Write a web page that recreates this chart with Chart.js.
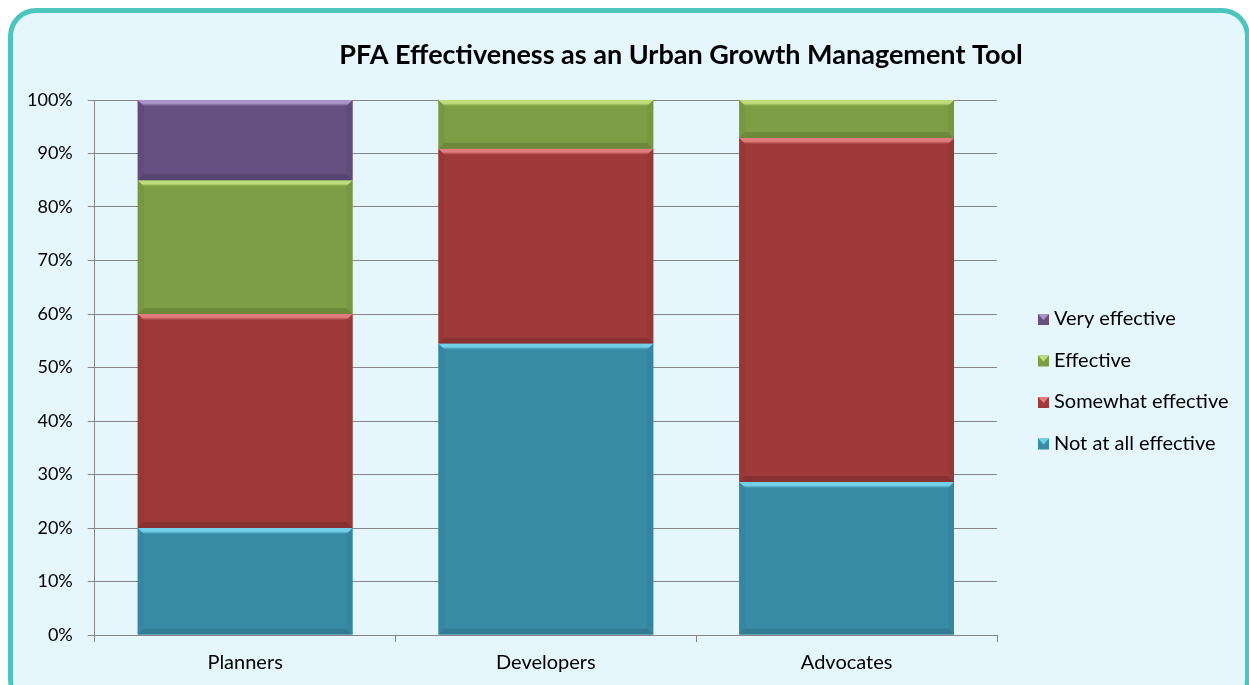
<!DOCTYPE html>
<html>
<head>
<meta charset="utf-8">
<script src="https://cdn.jsdelivr.net/npm/chart.js@4.4.1/dist/chart.umd.min.js"></script>
<style>
  html, body { margin: 0; padding: 0; background: #ffffff; overflow: hidden; }
  #frame {
    position: absolute; left: 8px; top: 8px; width: 1232px; height: 690px;
    border: 5px solid #4cc5bd; border-radius: 28px; background: #e5f6fd;
  }
  #chart { position: absolute; left: 0; top: 0; }
</style>
</head>
<body>
<div id="frame"></div>
<canvas id="chart" width="1249" height="685"></canvas>
<script>
// data (percent of respondents)
var categories = ['Planners', 'Developers', 'Advocates'];
var notAtAll   = [20, 54.5, 28.6];
var somewhat   = [40, 36.4, 64.3];
var effective  = [25, 9.1, 7.1];
var veryEff    = [15, 0, 0];
var yTicks     = [0, 10, 20, 30, 40, 50, 60, 70, 80, 90, 100];

var FONT = 'Lato, "Open Sans", sans-serif';

// bevel look of the excel bars
var bevelPlugin = {
  id: 'bevel',
  afterDatasetsDraw: function(chart){
    var ctx = chart.ctx;
    chart.data.datasets.forEach(function(ds, di){
      var meta = chart.getDatasetMeta(di);
      meta.data.forEach(function(bar){
        var p = bar.getProps(['x', 'y', 'base', 'width'], true);
        var h = Math.abs(p.base - p.y);
        if(h < 1) return;
        var l = p.x - p.width/2, r = p.x + p.width/2;
        var t = Math.min(p.y, p.base), b = Math.max(p.y, p.base);
        var k = Math.min(6, h/2);
        ctx.save();
        // sides
        ctx.fillStyle = ds.bevelSide;
        ctx.beginPath();
        ctx.moveTo(l, t); ctx.lineTo(l+k, t+k); ctx.lineTo(l+k, b-k); ctx.lineTo(l, b);
        ctx.closePath(); ctx.fill();
        ctx.beginPath();
        ctx.moveTo(r, t); ctx.lineTo(r-k, t+k); ctx.lineTo(r-k, b-k); ctx.lineTo(r, b);
        ctx.closePath(); ctx.fill();
        // top
        var g = ctx.createLinearGradient(0, t, 0, t+k);
        g.addColorStop(0, ds.bevelLight);
        g.addColorStop(0.55, ds.bevelLight);
        g.addColorStop(1, ds.backgroundColor);
        ctx.fillStyle = g;
        ctx.beginPath();
        ctx.moveTo(l, t); ctx.lineTo(r, t); ctx.lineTo(r-k, t+k); ctx.lineTo(l+k, t+k);
        ctx.closePath(); ctx.fill();
        // bottom
        ctx.fillStyle = ds.bevelDark;
        ctx.beginPath();
        ctx.moveTo(l, b); ctx.lineTo(r, b); ctx.lineTo(r-k, b-k); ctx.lineTo(l+k, b-k);
        ctx.closePath(); ctx.fill();
        ctx.restore();
      });
    });
  }
};

// title and legend placed like the excel chart
var textPlugin = {
  id: 'excelText',
  afterDraw: function(chart){
    var ctx = chart.ctx;
    ctx.save();
    ctx.fillStyle = '#000';
    ctx.font = 'bold 27px ' + FONT;
    ctx.textAlign = 'center';
    ctx.textBaseline = 'middle';
    ctx.fillText('PFA Effectiveness as an Urban Growth Management Tool', 681, 55);

    ctx.font = '20px ' + FONT;
    ctx.textAlign = 'left';
    var dsList = chart.data.datasets.slice().reverse();
    dsList.forEach(function(ds, i){
      var cy = 319 + i*41.5;
      ctx.fillStyle = ds.backgroundColor;
      ctx.fillRect(1038, cy-5, 11, 11);
      ctx.fillStyle = ds.bevelLight;
      ctx.beginPath();
      ctx.moveTo(1038, cy-5); ctx.lineTo(1049, cy-5); ctx.lineTo(1043.5, cy+1);
      ctx.closePath(); ctx.fill();
      ctx.fillStyle = '#000';
      ctx.fillText(ds.label, 1054, cy);
    });
    ctx.restore();
  }
};

function makeSet(label, values, main, light, dark, side){
  return {
    label: label, data: values,
    backgroundColor: main, bevelLight: light, bevelDark: dark, bevelSide: side,
    borderWidth: 0,
    barPercentage: 0.714, categoryPercentage: 1.0
  };
}

new Chart(document.getElementById('chart'), {
  type: 'bar',
  data: {
    labels: categories,
    datasets: [
      makeSet('Not at all effective', notAtAll,  '#388ca6', '#74cfea', '#327d94', '#3586a0'),
      makeSet('Somewhat effective',   somewhat,  '#9e3b3a', '#e07c7a', '#873231', '#973837'),
      makeSet('Effective',            effective, '#7f9d44', '#bddc7a', '#6e893b', '#799641'),
      makeSet('Very effective',       veryEff,   '#664f81', '#ad93cb', '#574470', '#614b7b')
    ]
  },
  options: {
    responsive: false,
    animation: false,
    layout: { padding: { left: 12, right: 252, top: 100, bottom: 1 } },
    plugins: {
      legend: { display: false },
      title: { display: false },
      tooltip: { enabled: false }
    },
    scales: {
      x: {
        stacked: true,
        grid: { display: true, drawOnChartArea: false, drawTicks: true, tickLength: 7, color: '#868686', offset: true },
        border: { display: true, color: '#868686' },
        ticks: { color: '#000', padding: 9, font: { family: FONT, size: 20 } }
      },
      y: {
        stacked: true,
        min: 0, max: 100,
        afterBuildTicks: function(axis){ axis.ticks = yTicks.map(function(v){ return { value: v }; }); },
        grid: { color: '#868686', tickLength: 7 },
        border: { display: true, color: '#868686' },
        ticks: { color: '#000', padding: 15, font: { family: FONT, size: 18 },
                 callback: function(v){ return v + '%'; } }
      }
    }
  },
  plugins: [bevelPlugin, textPlugin]
});
</script>
</body>
</html>
